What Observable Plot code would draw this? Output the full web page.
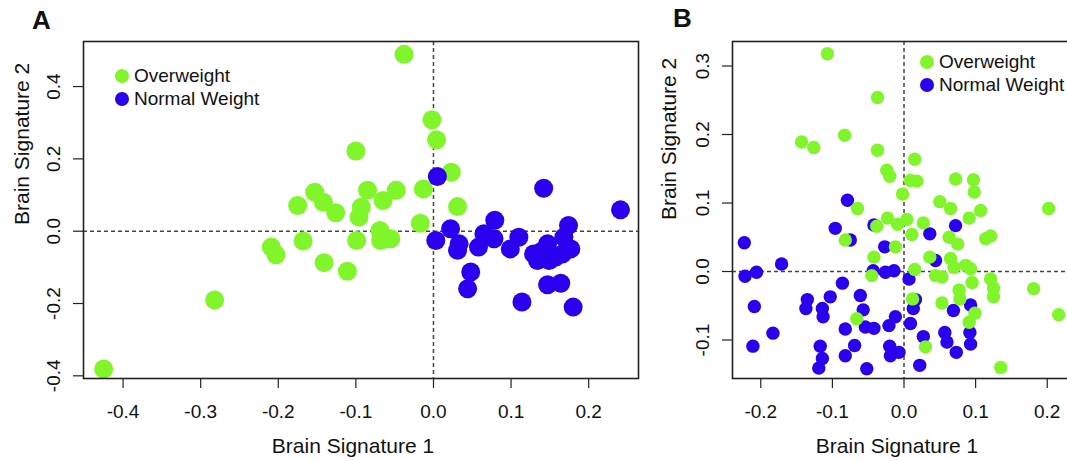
<!DOCTYPE html>
<html>
<head>
<meta charset="utf-8">
<script src="https://cdn.jsdelivr.net/npm/d3@7"></script>
<script src="https://cdn.jsdelivr.net/npm/@observablehq/plot@0.6"></script>
<style>
  html, body { margin: 0; padding: 0; background: #fff; }
  #fig { position: relative; width: 1067px; height: 461px; overflow: hidden; font-family: "Liberation Sans", Arial, sans-serif; color: #111; }
  .panel { position: absolute; top: 0; height: 461px; }
  .panel svg { max-width: none !important; }
  .letter { position: absolute; font-weight: bold; font-size: 26px; line-height: 1; }
  .legend { position: absolute; font-size: 19px; line-height: 22px; }
  .legend .row { display: flex; align-items: center; height: 22.5px; white-space: nowrap; }
  .legend .sw { width: 14px; height: 14px; border-radius: 50%; margin-right: 5px; }
</style>
</head>
<body>
<div id="fig">
  <div class="panel" id="panelA" style="left:0px; width:650px"></div>
  <div class="panel" id="panelB" style="left:650px; width:430px"></div>
  <div class="letter" style="left:32px; top:7px">A</div>
  <div class="letter" style="left:673px; top:5px">B</div>
  <div class="legend" id="legA" style="left:115px; top:65px"></div>
  <div class="legend" id="legB" style="left:920px; top:51px"></div>
</div>
<script>
// ---------- Data: Panel A ----------
const aOverX = [-0.425,-0.282,-0.209,-0.203,-0.175,-0.168,-0.153,-0.142,-0.141,-0.126,-0.111,-0.100,-0.038,-0.002,0.004,0.023,-0.013,-0.085,-0.048,-0.065,0.031,-0.093,-0.096,-0.017,-0.099,-0.069,-0.068,-0.055];
const aOverY = [-0.381,-0.190,-0.044,-0.065,0.071,-0.027,0.108,0.080,-0.087,0.051,-0.111,0.222,0.489,0.308,0.253,0.163,0.117,0.113,0.113,0.085,0.068,0.066,0.039,0.022,-0.026,0.002,-0.026,-0.021];
const aNormX = [0.005,0.142,0.241,0.079,0.174,0.022,0.065,0.003,0.110,0.033,0.058,0.078,0.031,0.099,0.129,0.147,0.149,0.134,0.166,0.177,0.168,0.048,0.044,0.147,0.164,0.114,0.180,0.140,0.157];
const aNormY = [0.151,0.119,0.059,0.030,0.016,0.007,-0.007,-0.026,-0.017,-0.035,-0.044,-0.021,-0.053,-0.049,-0.063,-0.035,-0.081,-0.081,-0.063,-0.049,-0.017,-0.113,-0.159,-0.148,-0.144,-0.196,-0.210,-0.055,-0.072];

// ---------- Data: Panel B ----------
const bOverX = [-0.107,-0.143,-0.126,-0.083,-0.082,-0.037,-0.037,0.015,-0.024,-0.020,0.009,0.018,0.072,0.097,0.098,-0.002,0.050,0.065,-0.065,0.202,0.107,0.091,-0.023,0.004,-0.038,-0.009,0.027,0.011,0.063,0.114,0.121,0.075,-0.012,-0.042,0.036,0.065,0.070,0.086,0.093,0.015,-0.045,0.044,0.053,0.095,0.121,0.125,0.125,0.181,0.077,0.078,0.012,0.053,0.099,0.091,0.216,-0.066,0.030,0.135];
const bOverY = [0.318,0.189,0.181,0.199,0.046,0.254,0.177,0.164,0.148,0.139,0.133,0.132,0.135,0.134,0.116,0.113,0.102,0.092,0.092,0.092,0.089,0.078,0.078,0.076,0.066,0.069,0.071,0.054,0.050,0.048,0.052,0.040,0.036,0.021,0.021,0.019,0.006,0.009,0.004,0.003,-0.006,-0.006,-0.008,-0.016,-0.011,-0.024,-0.037,-0.025,-0.027,-0.040,-0.040,-0.046,-0.061,-0.074,-0.063,-0.069,-0.110,-0.140];
const bNormX = [-0.223,-0.222,-0.206,-0.171,-0.209,-0.183,-0.211,-0.135,-0.137,-0.103,-0.114,-0.113,-0.117,-0.114,-0.119,-0.086,-0.082,-0.082,-0.079,-0.096,-0.042,0.072,0.036,-0.075,-0.027,0.044,-0.043,-0.026,-0.014,0.007,-0.061,0.016,-0.057,0.013,-0.012,0.093,0.069,0.009,-0.054,-0.042,-0.021,0.092,0.057,0.027,-0.069,0.060,0.093,-0.020,-0.007,-0.019,0.073,-0.052,0.022];
const bNormY = [0.042,-0.007,-0.001,0.011,-0.051,-0.090,-0.109,-0.041,-0.054,-0.037,-0.054,-0.066,-0.109,-0.127,-0.141,-0.017,-0.084,-0.123,0.104,0.063,0.068,0.067,0.055,0.046,0.036,0.016,0.001,-0.001,0.001,-0.011,-0.035,-0.041,-0.056,-0.054,-0.066,-0.049,-0.057,-0.076,-0.081,-0.083,-0.079,-0.089,-0.089,-0.095,-0.108,-0.103,-0.106,-0.109,-0.118,-0.123,-0.118,-0.142,-0.137];

// ---------- Labels / ticks ----------
const groups = ["Overweight", "Normal Weight"];
const colors = ["#80f62a", "#2a00ee"];
const xTitle = "Brain Signature 1";
const yTitle = "Brain Signature 2";
const aXTicks = [-0.4, -0.3, -0.2, -0.1, 0.0, 0.1, 0.2];
const aYTicks = [-0.4, -0.2, 0.0, 0.2, 0.4];
const bXTicks = [-0.2, -0.1, 0.0, 0.1, 0.2];
const bYTicks = [-0.1, 0.0, 0.1, 0.2, 0.3];

const toPts = (xs, ys) => xs.map((x, i) => ({x, y: ys[i]}));
const fmt = d => d.toFixed(1);
const font = "Liberation Sans, Arial, sans-serif";

function panel({width, margins, xDomain, yDomain, xTicks, yTicks, first, second, r, yTitleDx, yTitleDy, xTitleDx}) {
  return Plot.plot({
    width, height: 461,
    marginLeft: margins[0], marginRight: margins[1], marginTop: margins[2], marginBottom: margins[3],
    style: {fontFamily: font, fontSize: "19px", color: "#111", background: "transparent", overflow: "visible", maxWidth: "none"},
    x: {domain: xDomain},
    y: {domain: yDomain},
    marks: [
      Plot.ruleX([0], {stroke: "#444", strokeWidth: 1.5, strokeDasharray: "4,3"}),
      Plot.ruleY([0], {stroke: "#444", strokeWidth: 1.5, strokeDasharray: "4,3"}),
      Plot.dot(first.data, {x: "x", y: "y", r, fill: first.color, stroke: "none"}),
      Plot.dot(second.data, {x: "x", y: "y", r, fill: second.color, stroke: "none"}),
      Plot.frame({stroke: "#222", strokeWidth: 1.6}),
      Plot.axisX({ticks: xTicks, tickFormat: fmt, tickSize: 10, tickPadding: 16, stroke: "#222", strokeWidth: 1.2, label: null, fontSize: 19}),
      Plot.axisY({ticks: yTicks, tickFormat: fmt, tickSize: 10, tickPadding: 14, tickRotate: -90, stroke: "#222", strokeWidth: 1.2, label: null, fontSize: 19}),
      Plot.text([xTitle], {frameAnchor: "bottom", dy: 74, dx: xTitleDx, fontSize: 21, fill: "#111"}),
      Plot.text([yTitle], {frameAnchor: "left", rotate: -90, dx: yTitleDx, dy: yTitleDy, fontSize: 21, fill: "#111"})
    ]
  });
}

const A = panel({
  width: 650, margins: [83, 12, 41, 83],
  xDomain: [-0.4510, 0.2642], yDomain: [-0.4074, 0.5246],
  xTicks: aXTicks, yTicks: aYTicks,
  first: {data: toPts(aOverX, aOverY), color: colors[0]},
  second: {data: toPts(aNormX, aNormY), color: colors[1]},
  r: 9.5, yTitleDx: -61, yTitleDy: 15, xTitleDx: -8
});
const B = panel({
  width: 430, margins: [82, 9, 41, 83],
  xDomain: [-0.2395, 0.2339], yDomain: [-0.1562, 0.3358],
  xTicks: bXTicks, yTicks: bYTicks,
  first: {data: toPts(bNormX, bNormY), color: colors[1]},
  second: {data: toPts(bOverX, bOverY), color: colors[0]},
  r: 6.7, yTitleDx: -63, yTitleDy: 10, xTitleDx: -5
});
document.getElementById("panelA").appendChild(A);
document.getElementById("panelB").appendChild(B);

function legend(el) {
  groups.forEach((g, i) => {
    const row = document.createElement("div");
    row.className = "row";
    const sw = document.createElement("div");
    sw.className = "sw";
    sw.style.background = colors[i];
    const t = document.createElement("span");
    t.textContent = g;
    row.appendChild(sw); row.appendChild(t);
    el.appendChild(row);
  });
}
legend(document.getElementById("legA"));
legend(document.getElementById("legB"));
</script>
</body>
</html>
